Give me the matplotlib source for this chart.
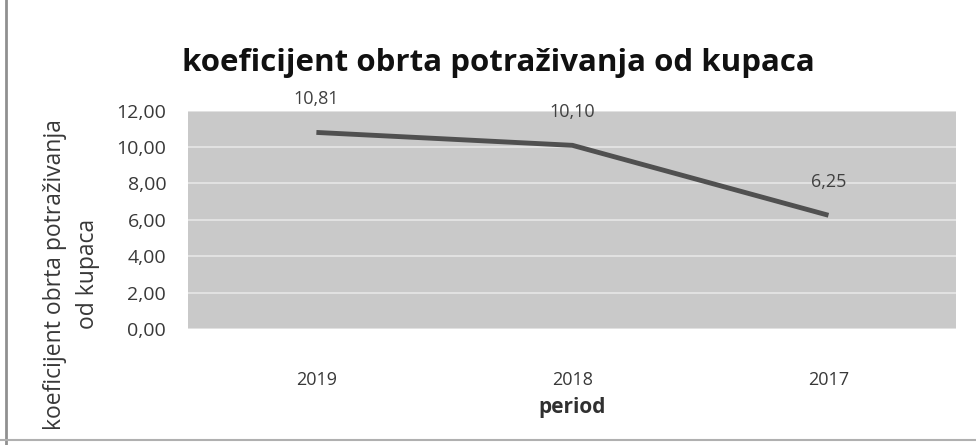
import matplotlib
matplotlib.use('Agg')
import matplotlib.pyplot as plt
from matplotlib.ticker import FuncFormatter
from matplotlib.lines import Line2D

# podaci
godine = ['2019', '2018', '2017']
koeficijent = [10.81, 10.10, 6.25]
oznake = ['10,81', '10,10', '6,25']

plt.rcParams['font.family'] = ['Open Sans', 'DejaVu Sans']

fig = plt.figure(figsize=(9.76, 4.45), dpi=100)
ax = fig.add_axes([0.193, 0.261, 0.787, 0.49])

x = range(len(godine))
ax.plot(x, koeficijent, color='#505050', lw=3.5, solid_capstyle='butt')

for i, (v, t) in enumerate(zip(koeficijent, oznake)):
    ax.annotate(t, (i, v), xytext=(0, 24), textcoords='offset points',
                ha='center', va='center', fontsize=13, color='#404040')

ax.set_xlim(-0.5, 2.5)
ax.set_ylim(0, 12)
ax.set_yticks(range(0, 13, 2))
ax.yaxis.set_major_formatter(FuncFormatter(lambda v, p: f'{v:.2f}'.replace('.', ',')))
ax.set_xticks(list(x))
ax.set_xticklabels(godine)

ax.set_facecolor('#c9c9c9')
ax.grid(axis='y', color='#e6e6e6', lw=1.2)
ax.set_axisbelow(True)
for s in ax.spines.values():
    s.set_visible(False)
ax.tick_params(axis='both', length=0, labelsize=14, colors='#383838')
ax.tick_params(axis='x', pad=30, labelsize=13)
ax.tick_params(axis='y', pad=16)

ax.set_xlabel('period', fontsize=15, fontweight='bold', color='#303030', labelpad=6)
ax.set_ylabel('koeficijent obrta potraživanja\nod kupaca', fontsize=16.5, color='#383838',
              linespacing=1.5)
ax.yaxis.set_label_coords(-0.115, 0.25)

fig.text(0.511, 0.858, 'koeficijent obrta potraživanja od kupaca', ha='center', va='center',
         fontsize=22.5, fontweight='bold', color='#111111')

# okvir (lijevo i dolje)
fig.add_artist(Line2D([0.006, 0.006], [0.0, 1.0], transform=fig.transFigure, color='#909090', lw=2))
fig.add_artist(Line2D([0.0, 1.0], [0.011, 0.011], transform=fig.transFigure, color='#b0b0b0', lw=1.5))

fig.savefig('out.png', dpi=100)
